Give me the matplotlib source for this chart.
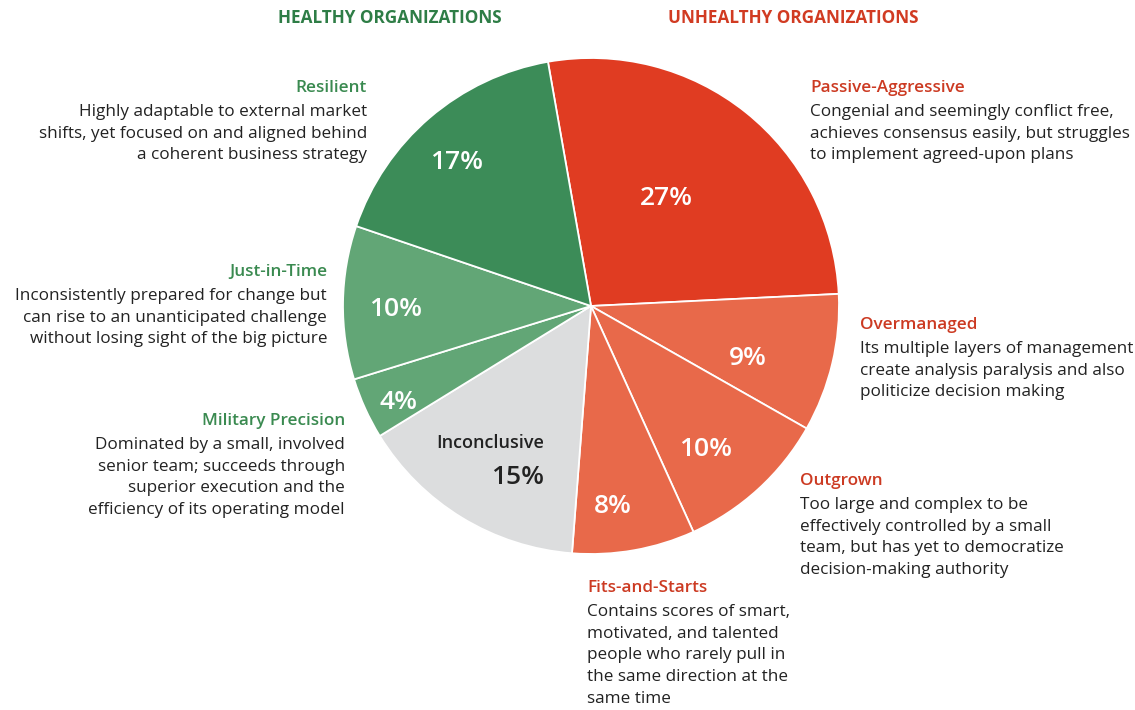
import numpy as np
import matplotlib.pyplot as plt

# data
segments = ["Passive-Aggressive", "Overmanaged", "Outgrown", "Fits-and-Starts",
            "Inconclusive", "Military Precision", "Just-in-Time", "Resilient"]
shares = [27, 9, 10, 8, 15, 4, 10, 17]
pct_labels = ["27%", "9%", "10%", "8%", "15%", "4%", "10%", "17%"]
descriptions = {
    "Passive-Aggressive": "Congenial and seemingly conflict free,\nachieves consensus easily, but struggles\nto implement agreed-upon plans",
    "Overmanaged": "Its multiple layers of management\ncreate analysis paralysis and also\npoliticize decision making",
    "Outgrown": "Too large and complex to be\neffectively controlled by a small\nteam, but has yet to democratize\ndecision-making authority",
    "Fits-and-Starts": "Contains scores of smart,\nmotivated, and talented\npeople who rarely pull in\nthe same direction at the\nsame time",
    "Military Precision": "Dominated by a small, involved\nsenior team; succeeds through\nsuperior execution and the\nefficiency of its operating model",
    "Just-in-Time": "Inconsistently prepared for change but\ncan rise to an unanticipated challenge\nwithout losing sight of the big picture",
    "Resilient": "Highly adaptable to external market\nshifts, yet focused on and aligned behind\na coherent business strategy",
}
healthy = ["Resilient", "Just-in-Time", "Military Precision"]

# styling
W, H = 1135, 710
RED_DARK = "#e03c22"
RED_LIGHT = "#e8694a"
GREEN_DARK = "#3c8c58"
GREEN_LIGHT = "#62a676"
GREY = "#dcddde"
TITLE_GREEN = "#3a8a50"
TITLE_RED = "#cc3a22"
TEXT = "#222222"
slice_colors = [RED_DARK, RED_LIGHT, RED_LIGHT, RED_LIGHT, GREY, GREEN_LIGHT, GREEN_LIGHT, GREEN_DARK]
label_radius = [0.55, 0.66, 0.72, 0.79, 0.73, 0.86, 0.79, 0.81]
label_turn = [5, -3, -2.6, -3.5, 7.4, 0.8, 0, 1.4]  # degrees off the wedge middle
FS = 12.3

plt.rcParams['font.family'] = ['Open Sans', 'DejaVu Sans']

fig = plt.figure(figsize=(W / 100, H / 100), dpi=100)
ax = fig.add_axes([0, 0, 1, 1])

cx, cy, R = 591, H - 306, 248
wedges, _ = ax.pie(shares, colors=slice_colors, startangle=100, counterclock=False,
                   center=(cx, cy), radius=R, frame=True,
                   wedgeprops=dict(edgecolor="white", linewidth=1.3))
ax.set_xlim(0, W)
ax.set_ylim(0, H)
ax.axis("off")

for w, lab, rf, turn, name in zip(wedges, pct_labels, label_radius, label_turn, segments):
    mid = np.deg2rad((w.theta1 + w.theta2) / 2 + turn)
    x = cx + rf * R * np.cos(mid)
    y = cy + rf * R * np.sin(mid) - 6
    if name == "Inconclusive":
        ax.text(x - 27, y + 34, "Inconclusive", ha="center", va="center",
                fontsize=13, fontweight="semibold", color=TEXT)
        ax.text(x, y, lab, ha="center", va="center", fontsize=19,
                fontweight="semibold", color=TEXT)
    else:
        ax.text(x, y, lab, ha="center", va="center", fontsize=19,
                fontweight="semibold", color="white")

# headers
ax.text(390, H - 18, "HEALTHY ORGANIZATIONS", ha="center", va="center",
        fontsize=12.3, fontweight="bold", color="#2e7d46")
ax.text(793, H - 18, "UNHEALTHY ORGANIZATIONS", ha="center", va="center",
        fontsize=12.3, fontweight="bold", color="#d13b22")

# annotation blocks: (name, x, y of title, align)
blocks = [
    ("Resilient", 367, 88, "right"),
    ("Just-in-Time", 327, 272, "right"),
    ("Military Precision", 345, 421, "right"),
    ("Passive-Aggressive", 810, 88, "left"),
    ("Overmanaged", 860, 325, "left"),
    ("Outgrown", 800, 481, "left"),
    ("Fits-and-Starts", 587, 588, "left"),
]
for name, x, y, ha in blocks:
    col = TITLE_GREEN if name in healthy else TITLE_RED
    ax.text(x, H - y, name, ha=ha, va="center", fontsize=FS,
            fontweight="semibold", color=col)
    ax.text(x, H - y - 16, descriptions[name], ha=ha, va="top", fontsize=FS,
            color=TEXT, linespacing=1.47, multialignment=ha)

fig.savefig("out.png", dpi=100, facecolor="white")
